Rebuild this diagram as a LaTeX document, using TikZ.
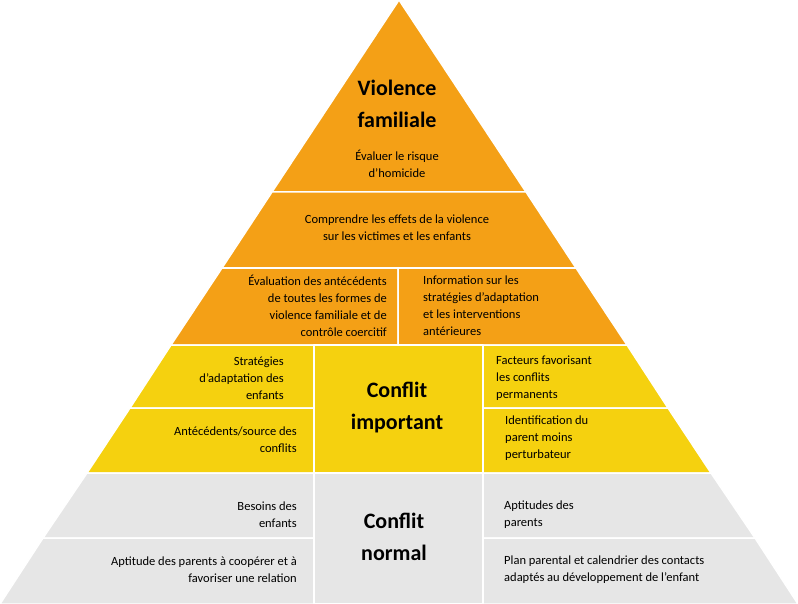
\documentclass[tikz,border=0pt]{standalone}
\usepackage{fontspec}
\setmainfont{Carlito}
\definecolor{pyrorange}{HTML}{F4A016}
\definecolor{pyryellow}{HTML}{F5D10F}
\definecolor{pyrgray}{HTML}{E6E6E6}
\begin{document}
\begin{tikzpicture}[x=1pt, y=-1pt,
  cell/.style={draw=white, line width=1.5pt, line join=round},
  txt/.style={font=\fontsize{12.5}{17}\selectfont, inner sep=0pt},
  rtxt/.style={txt, anchor=east, align=right},
  ltxt/.style={txt, anchor=west, align=left},
  title/.style={font=\fontsize{22}{32}\selectfont\bfseries, align=center, inner sep=0pt}
]
  \useasboundingbox (0,0) rectangle (798,604);

  % Orange levels
  \fill[cell, fill=pyrorange] (399,0) -- (526,192) -- (272,192) -- cycle;
  \fill[cell, fill=pyrorange] (272,192) -- (526,192) -- (576,268) -- (222,268) -- cycle;
  \fill[cell, fill=pyrorange] (222,268) -- (398,268) -- (398,345) -- (171,345) -- cycle;
  \fill[cell, fill=pyrorange] (398,268) -- (576,268) -- (627,345) -- (398,345) -- cycle;

  % Yellow levels
  \fill[cell, fill=pyryellow] (171,345) -- (314,345) -- (314,408) -- (130,408) -- cycle;
  \fill[cell, fill=pyryellow] (130,408) -- (314,408) -- (314,473) -- (87,473) -- cycle;
  \fill[cell, fill=pyryellow] (314,345) -- (483,345) -- (483,473) -- (314,473) -- cycle;
  \fill[cell, fill=pyryellow] (483,345) -- (627,345) -- (668,408) -- (483,408) -- cycle;
  \fill[cell, fill=pyryellow] (483,408) -- (668,408) -- (711,473) -- (483,473) -- cycle;

  % Gray levels
  \fill[cell, fill=pyrgray] (87,473) -- (314,473) -- (314,538) -- (43,538) -- cycle;
  \fill[cell, fill=pyrgray] (43,538) -- (314,538) -- (314,604) -- (0,604) -- cycle;
  \fill[cell, fill=pyrgray] (314,473) -- (483,473) -- (483,604) -- (314,604) -- cycle;
  \fill[cell, fill=pyrgray] (483,473) -- (711,473) -- (755,538) -- (483,538) -- cycle;
  \fill[cell, fill=pyrgray] (483,538) -- (755,538) -- (798,604) -- (483,604) -- cycle;

  % Texts
  \node[title] (viol) at (397,104) {Violence\\familiale};
  \node[txt, align=center] (homi) at (397,164) {Évaluer le risque\\d’homicide};
  \node[txt, align=center] (effe) at (397,228) {Comprendre les effets de la violence\\sur les victimes et les enfants};
  \node[rtxt] (ante) at (387,306) {Évaluation des antécédents\\de toutes les formes de\\violence familiale et de\\contrôle coercitif};
  \node[ltxt] (info) at (423,306) {Information sur les\\stratégies d’adaptation\\et les interventions\\antérieures};

  \node[title] (impo) at (397,408) {Conflit\\important};
  \node[rtxt] (stra) at (284,378) {Stratégies\\d’adaptation des\\enfants};
  \node[rtxt] (sour) at (297,440) {Antécédents/source des\\conflits};
  \node[ltxt] (fact) at (496,378) {Facteurs favorisant\\les conflits\\permanents};
  \node[ltxt] (iden) at (505,438) {Identification du\\parent moins\\perturbateur};

  \node[title] (norm) at (394,537) {Conflit\\normal};
  \node[rtxt] (beso) at (297,515) {Besoins des\\enfants};
  \node[rtxt] (coop) at (297,570) {Aptitude des parents à coopérer et à\\favoriser une relation};
  \node[ltxt] (apti) at (504,515) {Aptitudes des\\parents};
  \node[ltxt] (plan) at (504,570) {Plan parental et calendrier des contacts\\adaptés au développement de l’enfant};
\end{tikzpicture}
\end{document}
